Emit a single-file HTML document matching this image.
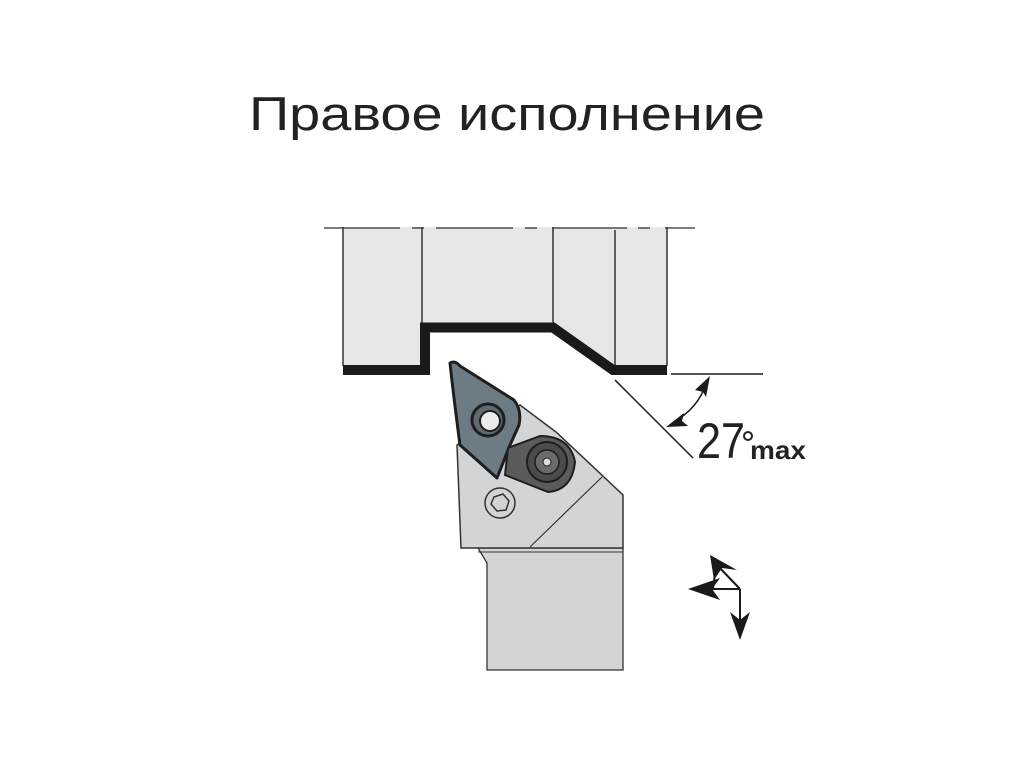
<!DOCTYPE html>
<html><head><meta charset="utf-8"><style>
html,body{margin:0;padding:0;background:#fff;width:1024px;height:768px;overflow:hidden}
</style></head><body>
<svg width="1024" height="768" viewBox="0 0 1024 768" xmlns="http://www.w3.org/2000/svg">
<text x="507" y="130" text-anchor="middle" font-family="Liberation Sans, sans-serif" font-size="47" fill="#222" textLength="516" lengthAdjust="spacingAndGlyphs">Правое исполнение</text>

<path d="M343,227 H667 V370 H613 L553,328 H425 V370 H343 Z" fill="#e6e7e8"/>
<g stroke="#333" stroke-width="1.5">
<line x1="343" y1="227" x2="343" y2="366"/>
<line x1="422" y1="227" x2="422" y2="326"/>
<line x1="553" y1="227" x2="553" y2="326"/>
<line x1="615" y1="230" x2="615" y2="366"/>
<line x1="667" y1="227" x2="667" y2="366"/>
</g>
<g stroke="#333" stroke-width="1.3">
<line x1="324" y1="228" x2="400" y2="228"/><line x1="412" y1="228" x2="424" y2="228"/>
<line x1="436" y1="228" x2="513" y2="228"/><line x1="525" y1="228" x2="537" y2="228"/>
<line x1="552" y1="228" x2="627" y2="228"/><line x1="638" y1="228" x2="650" y2="228"/>
<line x1="665" y1="228" x2="695" y2="228"/>
</g>
<path d="M343,370 H425 V327.5 H553 L613,370 H667" fill="none" stroke="#1a1a1a" stroke-width="10"/>

<g stroke="#1a1a1a" stroke-width="1.5" fill="none">
<line x1="671" y1="374" x2="763" y2="374"/>
<line x1="615" y1="380" x2="693" y2="458"/>
<path d="M706,384 Q698,408 674,422"/>
</g>
<path d="M710,376 L695,390 L703,392 L706,397 Z" fill="#1a1a1a"/>
<path d="M666,427 L684,413 L682,421 L688,426 Z" fill="#1a1a1a"/>
<text x="697" y="458" font-family="Liberation Sans, sans-serif" font-size="50" fill="#222" textLength="48" lengthAdjust="spacingAndGlyphs">27</text>
<circle cx="748" cy="436" r="4" fill="none" stroke="#222" stroke-width="2"/>
<text x="750" y="459" font-family="Liberation Sans, sans-serif" font-size="26" font-weight="bold" fill="#222" textLength="56" lengthAdjust="spacingAndGlyphs">max</text>

<path d="M478,548 L487,563 V670 H623 V548 Z" fill="#d3d4d5" stroke="#333" stroke-width="1.3"/>
<line x1="478" y1="552" x2="623" y2="552" stroke="#333" stroke-width="1"/>
<path d="M457,445 L520,405 L556,432 L623,495 V548 H461 Z" fill="#d3d4d5" stroke="#333" stroke-width="1.5"/>
<line x1="530" y1="547" x2="602" y2="477" stroke="#333" stroke-width="1.2"/>
<circle cx="500" cy="503" r="15" fill="none" stroke="#333" stroke-width="1.5"/>
<polygon points="494,497 503,494 509,501 506,510 497,511 491,504" fill="none" stroke="#333" stroke-width="1.5"/>
<path d="M450,363 Q455,360 460,366 L514,400 Q522,410 519,425 L510,445 L497,478 L460,445 Q454,400 450,363 Z" fill="#6c7b84" stroke="#1e1e1e" stroke-width="3" stroke-linejoin="round"/>
<circle cx="488" cy="420" r="16" fill="#5e6a72" stroke="#1e1e1e" stroke-width="3"/>
<circle cx="490" cy="421" r="10" fill="#ececec" stroke="#1e1e1e" stroke-width="2"/>
<path d="M508,448 L540,436 Q570,436 575,462 Q572,490 548,492 L505,475 Z" fill="#5a5b5d" stroke="#1e1e1e" stroke-width="2"/>
<circle cx="547" cy="462" r="20" fill="#4a4b4d" stroke="#1e1e1e" stroke-width="2"/>
<circle cx="547" cy="462" r="12" fill="#6a6b6d" stroke="#1e1e1e" stroke-width="1.5"/>
<circle cx="547" cy="462" r="4" fill="#ddd" stroke="#1e1e1e" stroke-width="1"/>

<g stroke="#1a1a1a" stroke-width="2" fill="none">
<line x1="700" y1="589" x2="740" y2="589"/>
<line x1="740" y1="589" x2="740" y2="632"/>
<line x1="740" y1="589" x2="718" y2="566"/>
<line x1="716" y1="565" x2="713" y2="589"/>
</g>
<path d="M688,589 L720,578 L712,589 L720,600 Z" fill="#1a1a1a"/>
<path d="M710,555 L737,570 L722,568 L714,580 Z" fill="#1a1a1a"/>
<path d="M740,640 L730,612 L740,620 L750,612 Z" fill="#1a1a1a"/>
</svg>
</body></html>
